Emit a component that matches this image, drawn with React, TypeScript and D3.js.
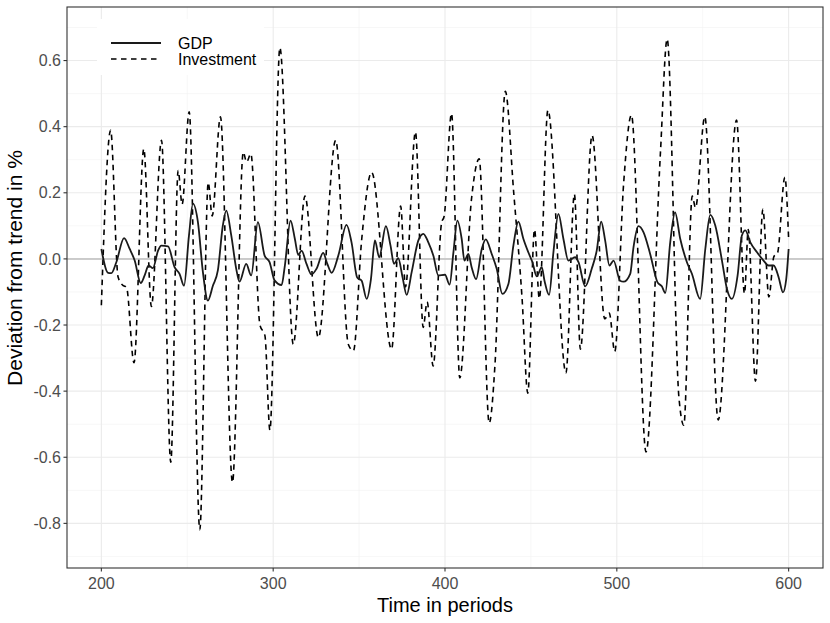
import React from 'react';
import * as d3 from 'd3';

// time points and GDP deviation
const gdpT = [
  200, 203.9, 205.8, 208.7, 213.2, 216.5, 219.4, 222.9, 225.2, 227.5, 230, 233, 234.9, 238.8,
  242.6, 245.5, 248.1, 251, 253.3, 256.2, 259.1, 262, 264.9, 267.8, 270.7, 272.7, 275.6, 278.5,
  280.4, 284.3, 287.2, 291.1, 295, 297.9, 300.8, 304.9, 306.8, 310.1, 312.6, 314.6, 316.5, 319.4,
  322.3, 325.2, 329.1, 331.5, 334, 337.9, 342.7, 345.6, 348.9, 351.5, 354.4, 356.9, 359.2, 361.7,
  365.6, 368.3, 370.3, 372.8, 375.3, 377.7, 380.6, 384.5, 387.4, 390.3, 393.2, 396.1, 400, 402.7,
  404.9, 407.2, 409.7, 411.3, 413.6, 415.5, 418.1, 421.4, 423.7, 427.2, 430.1, 433.4, 436.9, 439.8,
  442.7, 445.6, 448.5, 450.9, 453.4, 456.3, 457.9, 460.6, 463.1, 466, 468.9, 471.8, 475.7, 477.7,
  481.6, 485.4, 488.3, 490.9, 493.2, 495.7, 498.1, 501.9, 503.9, 507.8, 509.7, 512.6, 515.5, 519.4,
  523.7, 526.2, 528.2, 531.1, 533.9, 536.9, 540.8, 543.7, 548.5, 551.5, 554.4, 557.3, 561.2, 564.1,
  567, 570.3, 572.8, 574.8, 577.7, 581.6, 585.4, 588.3, 591.3, 594.2, 596.7, 598.6, 600,
];
const gdpV = [
  0.03, -0.042, -0.043, -0.01, 0.063, 0.03, -0.005, -0.073, -0.05, -0.02, -0.028, 0.025, 0.04, 0.038,
  -0.025, -0.045, -0.081, 0.071, 0.167, 0.111, -0.04, -0.126, -0.081, -0.035, 0.101, 0.146, 0.071, -0.03,
  -0.069, -0.015, -0.05, 0.111, 0.01, -0.01, -0.065, -0.079, -0.02, 0.116, 0.061, 0.012, 0.025, -0.015,
  -0.047, -0.03, 0.018, -0.015, -0.042, 0.01, 0.103, 0.05, -0.056, -0.066, -0.121, -0.061, 0.056, 0.005,
  0.099, 0.04, -0.015, 0.002, -0.056, -0.109, -0.04, 0.056, 0.076, 0.05, 0.01, -0.05, -0.048, -0.078,
  0.02, 0.116, 0.061, -0.005, 0.015, -0.025, -0.061, 0.03, 0.059, 0.015, -0.03, -0.106, -0.076, 0.04,
  0.113, 0.061, 0.02, -0.01, -0.053, -0.025, -0.066, -0.109, 0.02, 0.136, 0.061, -0.005, 0.005, -0.01,
  -0.083, -0.03, 0.025, 0.113, 0.056, -0.02, -0.005, -0.066, -0.069, -0.045, 0.035, 0.099, 0.081, 0.015,
  -0.071, -0.083, -0.103, 0.051, 0.141, 0.061, -0.01, -0.045, -0.121, 0.03, 0.133, 0.101, -0.005, -0.091,
  -0.121, -0.05, 0.071, 0.086, 0.05, 0.02, -0.005, -0.02, -0.02, -0.056, -0.101, -0.061, 0.03,
];

// investment deviation
const invT = [
  200, 205.4, 209.7, 212.5, 214.6, 219, 224.7, 229.1, 235, 240.4, 244.7, 247, 251.1, 257.3,
  262.2, 264.5, 269.3, 276.3, 282.6, 284.5, 287, 292.3, 295.2, 298.1, 303.9, 311.7, 318.5, 326.3,
  336.4, 343.7, 346.7, 351.5, 357.3, 368.9, 374.2, 377, 382.8, 387.3, 389.6, 393.1, 398, 399.5,
  403.8, 408.6, 415.4, 419.9, 425.7, 429.1, 435.1, 440, 444.8, 448.2, 452.1, 454.9, 459.9, 470.4,
  475.3, 478.8, 485.6, 493, 495.6, 498.8, 504, 508.5, 517, 525.4, 529.3, 536.1, 539, 543.9,
  545.8, 551.2, 559, 569.7, 574.3, 576.5, 580.7, 585, 588.5, 591.4, 593.5, 597.8, 600,
];
const invV = [
  -0.14, 0.389, -0.054, -0.08, -0.085, -0.314, 0.333, -0.144, 0.359, -0.615, 0.267, 0.165, 0.445, -0.819,
  0.231, 0.13, 0.43, -0.676, 0.323, 0.293, 0.318, -0.2, -0.232, -0.518, 0.639, -0.258, 0.19, -0.238,
  0.359, -0.258, -0.278, 0.058, 0.262, -0.273, 0.16, -0.085, 0.384, -0.207, -0.13, -0.324, 0.109, 0.129,
  0.44, -0.36, 0.18, 0.303, -0.497, -0.319, 0.507, 0.2, -0.115, -0.406, 0.089, -0.12, 0.45, -0.345,
  0.196, -0.273, 0.374, -0.181, -0.164, -0.28, 0.231, 0.435, -0.584, 0.323, 0.665, -0.416, -0.503, 0.19,
  0.155, 0.43, -0.487, 0.42, -0.105, 0.089, -0.37, 0.15, -0.115, 0.007, 0.017, 0.247, 0.06,
];

const xMajor = [200, 300, 400, 500, 600];
const xMinor = [250, 350, 450, 550];
const yMajor = [-0.8, -0.6, -0.4, -0.2, 0, 0.2, 0.4, 0.6];
const yMinor = [-0.9, -0.7, -0.5, -0.3, -0.1, 0.1, 0.3, 0.5, 0.7];

const W = 830;
const H = 623;
const FONT = '"Liberation Sans", Arial, Helvetica, sans-serif';

export default function App() {
  const left = 67, right = 823, top = 7, bottom = 568;
  const x = d3.scaleLinear().domain([180, 620]).range([left, right]);
  const y = d3.scaleLinear().domain([-0.935, 0.762]).range([bottom, top]);

  const line = d3
    .line<[number, number]>()
    .x((d) => x(d[0]))
    .y((d) => y(d[1]))
    .curve(d3.curveMonotoneX);

  const gdp: [number, number][] = gdpT.map((t, i) => [t, gdpV[i]]);
  const inv: [number, number][] = invT.map((t, i) => [t, invV[i]]);

  return (
    <svg
      width={W}
      height={H}
      style={{ position: 'absolute', left: 0, top: 0, background: '#fff' }}
      fontFamily={FONT}
    >
      <rect x={left} y={top} width={right - left} height={bottom - top} fill="#fff" />

      {/* grid */}
      {xMinor.map((v) => (
        <line key={'xm' + v} x1={x(v)} x2={x(v)} y1={top} y2={bottom} stroke="#f2f2f2" strokeWidth={0.6} />
      ))}
      {yMinor.map((v) => (
        <line key={'ym' + v} x1={left} x2={right} y1={y(v)} y2={y(v)} stroke="#f2f2f2" strokeWidth={0.6} />
      ))}
      {xMajor.map((v) => (
        <line key={'xM' + v} x1={x(v)} x2={x(v)} y1={top} y2={bottom} stroke="#ebebeb" strokeWidth={1.1} />
      ))}
      {yMajor.map((v) => (
        <line key={'yM' + v} x1={left} x2={right} y1={y(v)} y2={y(v)} stroke="#ebebeb" strokeWidth={1.1} />
      ))}

      {/* zero line */}
      <line x1={left} x2={right} y1={y(0)} y2={y(0)} stroke="#bebebe" strokeWidth={1.5} />

      <path d={line(inv) ?? ''} fill="none" stroke="#000" strokeWidth={1.6} strokeDasharray="5.5,4.5" />
      <path d={line(gdp) ?? ''} fill="none" stroke="#1a1a1a" strokeWidth={1.8} />

      <rect x={left} y={top} width={right - left} height={bottom - top} fill="none" stroke="#333" strokeWidth={1.1} />

      {/* axes */}
      {xMajor.map((v) => (
        <g key={'xt' + v}>
          <line x1={x(v)} x2={x(v)} y1={bottom} y2={bottom + 3.5} stroke="#333" strokeWidth={1.1} />
          <text x={x(v)} y={bottom + 20.5} textAnchor="middle" fontSize={16} fill="#4d4d4d">
            {v}
          </text>
        </g>
      ))}
      {yMajor.map((v) => (
        <g key={'yt' + v}>
          <line x1={left - 3.5} x2={left} y1={y(v)} y2={y(v)} stroke="#333" strokeWidth={1.1} />
          <text x={left - 6} y={y(v) + 5.7} textAnchor="end" fontSize={16} fill="#4d4d4d">
            {d3.format('.1f')(v).replace('−', '-')}
          </text>
        </g>
      ))}

      <text x={(left + right) / 2} y={612} textAnchor="middle" fontSize={20} fill="#000">
        Time in periods
      </text>
      <text
        transform={`translate(22,268) rotate(-90)`}
        textAnchor="middle"
        fontSize={21}
        fill="#000"
      >
        Deviation from trend in %
      </text>

      {/* legend */}
      <g>
        <rect x={97} y={19} width={167} height={56} fill="#fff" />
        <line x1={111} x2={161} y1={43} y2={43} stroke="#1a1a1a" strokeWidth={1.8} />
        <line x1={111} x2={161} y1={59} y2={59} stroke="#000" strokeWidth={1.6} strokeDasharray="5.5,4.5" />
        <text x={178} y={48.8} fontSize={16} fill="#000">GDP</text>
        <text x={178} y={64.8} fontSize={16} fill="#000">Investment</text>
      </g>
    </svg>
  );
}
